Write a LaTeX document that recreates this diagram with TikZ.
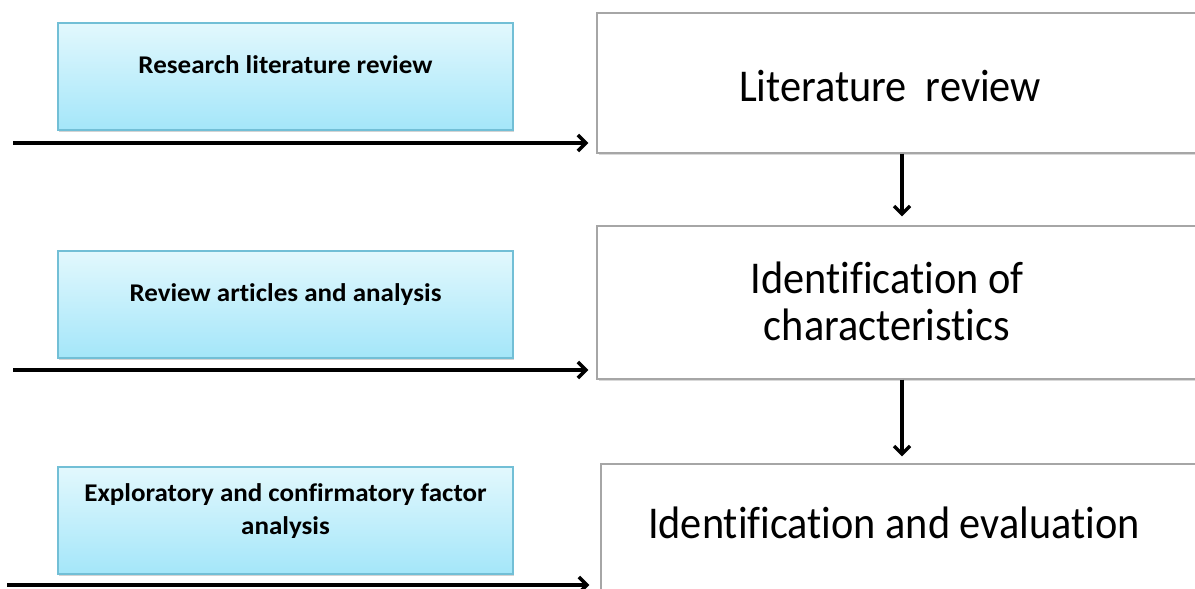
\documentclass[tikz,border=0pt]{standalone}
\usepackage{fontspec}
\setmainfont{Carlito}[Ligatures=NoCommon]
\newfontfamily\bigfont{Carlito}[FakeStretch=0.93,Ligatures=NoCommon]
\newfontfamily\boxfont{Carlito}[FakeStretch=1.06,Ligatures=NoCommon]
\usetikzlibrary{arrows.meta,shadows}
\definecolor{bluetop}{HTML}{E2F8FD}
\definecolor{bluebot}{HTML}{A4E6F9}
\definecolor{blueedge}{HTML}{72BFD6}
\definecolor{grayedge}{HTML}{A6A6A6}
\begin{document}
\begin{tikzpicture}[x=1pt,y=-1pt,
  bluebox/.style={draw=blueedge,line width=1.2pt,top color=bluetop,bottom color=bluebot,
    minimum width=455pt,minimum height=107pt,inner sep=0pt,
    drop shadow={shadow xshift=1pt,shadow yshift=-2pt,opacity=0.35}},
  whitebox/.style={draw=grayedge,line width=1.2pt,fill=white,inner sep=0pt,
    drop shadow={shadow xshift=1.5pt,shadow yshift=-2pt,opacity=0.3}},
  bluetext/.style={font=\boxfont\fontsize{25.5}{33}\selectfont\bfseries,align=center,inner sep=0pt},
  bigtext/.style={font=\bigfont\fontsize{45.5}{47}\selectfont,align=center,inner sep=0pt},
  harrow/.style={draw=black,line width=4.2pt,-{Straight Barb[length=8pt,width=16pt,line width=3.6pt]}},
  varrow/.style={draw=black,line width=3.6pt,-{Straight Barb[length=8pt,width=16pt,line width=3.4pt]}}]
\useasboundingbox (0,0) rectangle (1195,589);
\begin{scope}
\clip (0,0) rectangle (1195,589);
% white boxes
\node[whitebox,minimum width=610pt,minimum height=140pt] (w1) at (902,83) {};
\node[whitebox,minimum width=610pt,minimum height=153pt] (w2) at (902,302.5) {};
\node[whitebox,minimum width=608pt,minimum height=160pt] (w3) at (905,544) {};
\end{scope}
\node[bigtext] (tw1) at (890,86) {Literature\ \ review};
\node[bigtext] (tw2) at (887,301) {Identification of\\characteristics};
\node[bigtext] (tw3) at (894,523) {Identification and evaluation};
% blue boxes
\node[bluebox] (b1) at (285.5,76.5) {};
\node[bluebox] (b2) at (285.5,304.5) {};
\node[bluebox] (b3) at (285.5,520.5) {};
\node[bluetext] (tb1) at (285.5,65) {Research literature review};
\node[bluetext] (tb2) at (285.5,295) {Review articles and analysis};
\node[bluetext] (tb3) at (285.5,511.5) {Exploratory and confirmatory factor\\analysis};
% arrows
\coordinate (s1) at (13,143);
\coordinate (s2) at (13,370);
\coordinate (s3) at (7,585);
\draw[harrow,shorten >=8pt] (s1) -- (s1 -| w1.west);
\draw[harrow,shorten >=8pt] (s2) -- (s2 -| w2.west);
\draw[harrow,shorten >=11pt] (s3) -- (s3 -| w3.west);
\draw[varrow,shorten >=9pt] (w1.south) -- (w2.north);
\draw[varrow,shorten >=7pt] (w2.south) -- (w2.south |- w3.north);
\end{tikzpicture}
\end{document}
